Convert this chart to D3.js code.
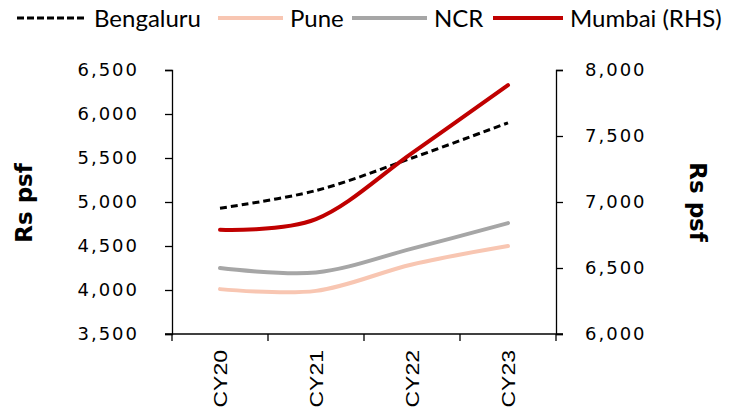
<!DOCTYPE html>
<html>
<head>
<meta charset="utf-8">
<script src="https://cdn.jsdelivr.net/npm/d3@7"></script>
<style>
  html, body { margin: 0; padding: 0; background: #fff; }
  svg { display: block; }
</style>
</head>
<body>
<svg id="chart" width="740" height="412"></svg>
<script>
// Residential prices by city (Rs per sq ft)
const categories = ["CY20", "CY21", "CY22", "CY23"];
const bengaluru = [4930, 5130, 5500, 5900];
const pune      = [4010, 3990, 4290, 4500];
const ncr       = [4250, 4200, 4470, 4760];
const mumbai    = [6790, 6870, 7370, 7885];   // right-hand scale

const leftTicks  = [3500, 4000, 4500, 5000, 5500, 6000, 6500];
const rightTicks = [6000, 6500, 7000, 7500, 8000];

const series = [
  { name: "Bengaluru",    values: bengaluru, axis: "left",  color: "#000000", width: 3, dash: "7,4" },
  { name: "Pune",         values: pune,      axis: "left",  color: "#F8C6B2", width: 4, dash: null },
  { name: "NCR",          values: ncr,       axis: "left",  color: "#A6A6A6", width: 4, dash: null },
  { name: "Mumbai (RHS)", values: mumbai,    axis: "right", color: "#C00000", width: 4, dash: null }
];

const svg = d3.select("#chart");
const plot = { left: 172, right: 556, top: 70, bottom: 334 };

const x = d3.scaleBand().domain(categories).range([plot.left, plot.right]).padding(0);
const yL = d3.scaleLinear().domain([3500, 6500]).range([plot.bottom, plot.top]);
const yR = d3.scaleLinear().domain([6000, 8000]).range([plot.bottom, plot.top]);
const fmt = d3.format(",");

const tickFont = "'DejaVu Sans', Verdana, sans-serif";

// Left axis
const gL = svg.append("g")
  .attr("transform", `translate(${plot.left},0)`)
  .call(d3.axisLeft(yL).tickValues(leftTicks).tickFormat(fmt).tickSize(7).tickPadding(26));
// Right axis
const gR = svg.append("g")
  .attr("transform", `translate(${plot.right},0)`)
  .call(d3.axisRight(yR).tickValues(rightTicks).tickFormat(fmt).tickSize(7).tickPadding(22));

[gL, gR].forEach(g => {
  g.select(".domain").attr("stroke", "#000").attr("stroke-width", 1.3);
  g.selectAll(".tick line").attr("stroke", "#000").attr("stroke-width", 1.3);
  g.selectAll(".tick text")
    .attr("font-family", tickFont)
    .attr("font-size", 18)
    .attr("letter-spacing", 2)
    .attr("fill", "#000");
});

// Bottom axis: ticks sit between categories
const boundaries = categories.map(c => x(c)).concat([x(categories[categories.length - 1]) + x.bandwidth()]);
const gB = svg.append("g").attr("transform", `translate(0,${plot.bottom})`);
gB.append("line")
  .attr("x1", plot.left - 7).attr("x2", plot.right + 7)
  .attr("stroke", "#000").attr("stroke-width", 1.3);
gB.selectAll("line.btick").data(boundaries).join("line")
  .attr("class", "btick")
  .attr("x1", d => d).attr("x2", d => d)
  .attr("y1", 0).attr("y2", 7)
  .attr("stroke", "#000").attr("stroke-width", 1.3);
gB.selectAll("text.cat").data(categories).join("text")
  .attr("class", "cat")
  .attr("transform", d => `translate(${x(d) + x.bandwidth() / 2 + 7},16) rotate(-90) scale(1.28,1)`)
  .attr("text-anchor", "end")
  .attr("font-family", "'Liberation Sans', Arial, sans-serif")
  .attr("font-size", 18)
  .attr("fill", "#000")
  .text(d => d);

// Axis titles
svg.append("text")
  .attr("transform", "translate(32,203) rotate(-90)")
  .attr("text-anchor", "middle")
  .attr("font-family", tickFont)
  .attr("font-weight", "bold")
  .attr("font-size", 23)
  .text("Rs psf");
svg.append("text")
  .attr("transform", "translate(690,202) rotate(90)")
  .attr("text-anchor", "middle")
  .attr("font-family", tickFont)
  .attr("font-weight", "bold")
  .attr("font-size", 23)
  .text("Rs psf");

// Smoothed lines
series.forEach(s => {
  const yScale = s.axis === "left" ? yL : yR;
  const line = d3.line()
    .x((d, i) => x(categories[i]) + x.bandwidth() / 2)
    .y(d => yScale(d))
    .curve(d3.curveCardinal.tension(0));
  svg.append("path")
    .datum(s.values)
    .attr("d", line)
    .attr("fill", "none")
    .attr("stroke", s.color)
    .attr("stroke-width", s.width)
    .attr("stroke-linecap", s.dash ? "butt" : "round")
    .attr("stroke-dasharray", s.dash);
});

// Legend: swatch start/end for each entry, label follows the swatch
const legendSlots = [[17, 87], [218, 283], [352, 427], [493, 563]];
const legend = svg.append("g");
series.forEach((s, i) => {
  const [x0, x1] = legendSlots[i];
  legend.append("line")
    .attr("x1", x0).attr("x2", x1).attr("y1", 18).attr("y2", 18)
    .attr("stroke", s.color)
    .attr("stroke-width", s.dash ? 3 : 4)
    .attr("stroke-dasharray", s.dash ? "7,3" : null);
  legend.append("text")
    .attr("x", x1 + 7).attr("y", 27)
    .attr("font-family", "Lato, sans-serif")
    .attr("font-size", 24)
    .attr("fill", "#000")
    .text(s.name);
});
</script>
</body>
</html>
